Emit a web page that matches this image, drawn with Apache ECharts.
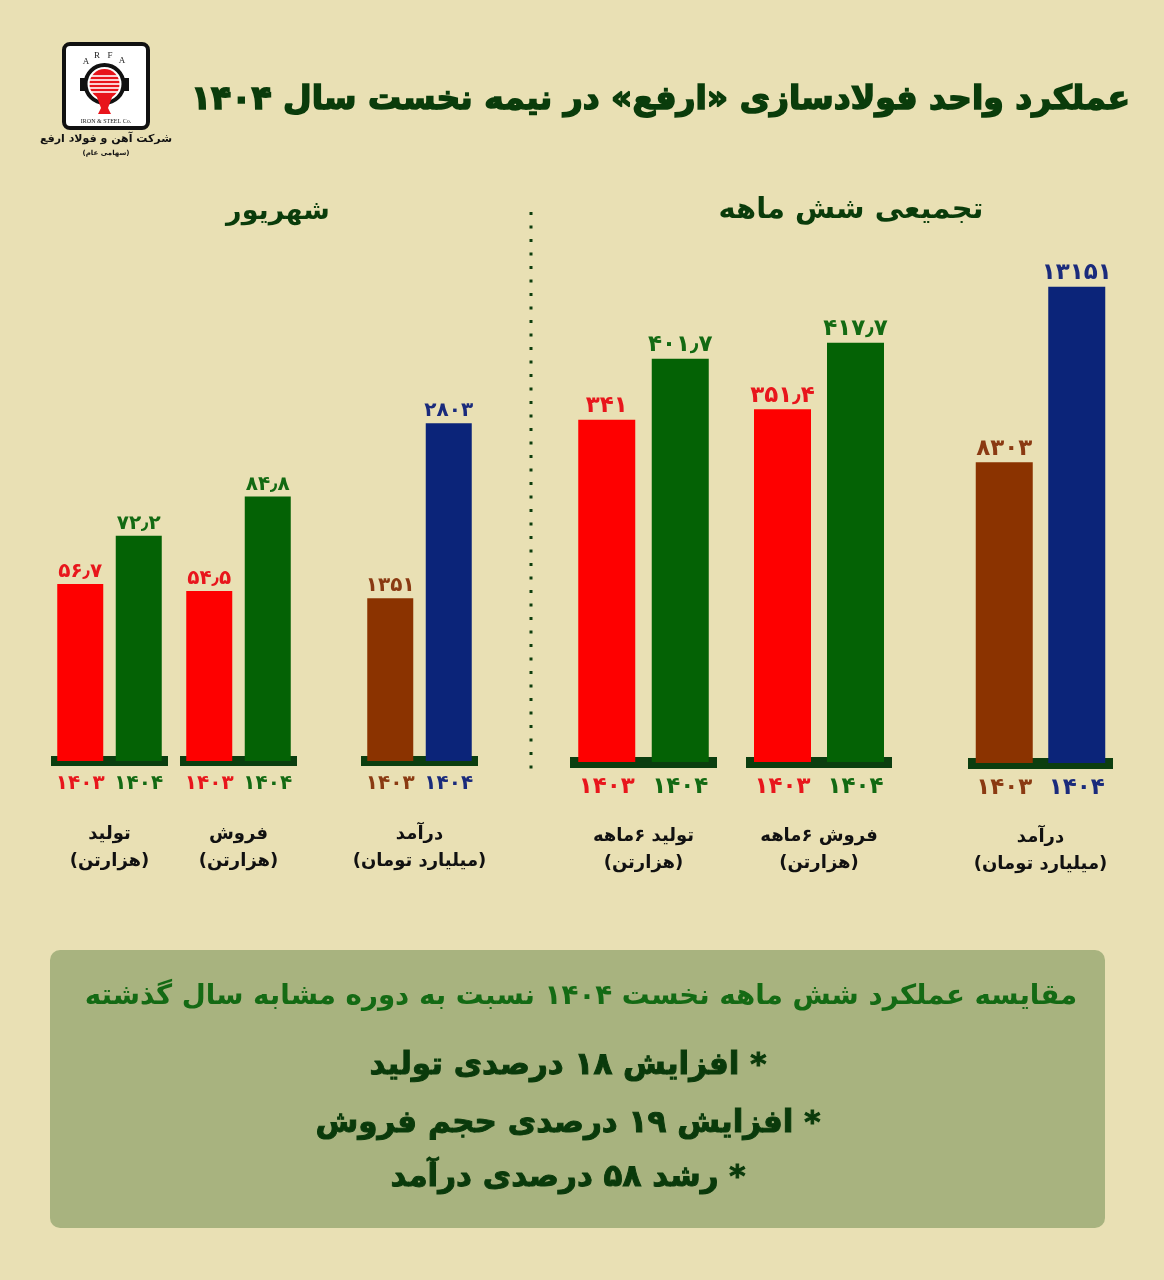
<!DOCTYPE html>
<html>
<head>
<meta charset="utf-8">
<script src="https://cdn.jsdelivr.net/npm/echarts@6/dist/echarts.min.js"></script>
<style>
html,body{margin:0;padding:0;background:#e9e0b4;}
#c{width:1164px;height:1280px;}
</style>
</head>
<body>
<div id="c"></div>
<script>
// ---------- data ----------
const years = ['1403', '1404'];
const shahrivarProduction = [56.7, 72.2];
const shahrivarSales = [54.5, 84.8];
const shahrivarRevenue = [1351, 2803];
const sixMonthProduction = [341, 401.7];
const sixMonthSales = [351.4, 417.7];
const sixMonthRevenue = [8303, 13151];
const groupNames = [
  'تولید\n(هزارتن)',
  'فروش\n(هزارتن)',
  'درآمد\n(میلیارد تومان)',
  'تولید ۶ماهه\n(هزارتن)',
  'فروش ۶ماهه\n(هزارتن)',
  'درآمد\n(میلیارد تومان)'
];
const titleText = 'عملکرد واحد فولادسازی «ارفع» در نیمه نخست سال ۱۴۰۴';
const sectionLeft = 'شهریور';
const sectionRight = 'تجمیعی شش ماهه';
const boxHeading = 'مقایسه عملکرد شش ماهه نخست ۱۴۰۴ نسبت به دوره مشابه سال گذشته';
const bullets = [
  '* افزایش ۱۸ درصدی تولید',
  '* افزایش ۱۹ درصدی حجم فروش',
  '* رشد ۵۸ درصدی درآمد'
];

// ---------- styling / layout ----------
const FONT = '"DejaVu Sans", sans-serif';
const RED = '#fe0000', GREEN = '#046205', BROWN = '#8b3300', BLUE = '#0b2479';
const RED_T = '#e8161c', GREEN_T = '#136a13', BROWN_T = '#8a3a12', BLUE_T = '#1a2b7c';
const BASE = '#0b3e0f';

const groups = [
  {values: shahrivarProduction, colors: [RED, GREEN], tcolors: [RED_T, GREEN_T]},
  {values: shahrivarSales, colors: [RED, GREEN], tcolors: [RED_T, GREEN_T]},
  {values: shahrivarRevenue, colors: [BROWN, BLUE], tcolors: [BROWN_T, BLUE_T]},
  {values: sixMonthProduction, colors: [RED, GREEN], tcolors: [RED_T, GREEN_T]},
  {values: sixMonthSales, colors: [RED, GREEN], tcolors: [RED_T, GREEN_T]},
  {values: sixMonthRevenue, colors: [BROWN, BLUE], tcolors: [BROWN_T, BLUE_T]}
];
const layout = [
  {left: 51,  width: 117, top: 449, zero: 761, max: 100,   bar: 46, line: 10, fs: 20, afs: 20, margin: 8},
  {left: 180, width: 117, top: 449, zero: 761, max: 100,   bar: 46, line: 10, fs: 20, afs: 20, margin: 8},
  {left: 361, width: 117, top: 399.5, zero: 761, max: 3000, bar: 46, line: 10, fs: 20, afs: 20, margin: 8},
  {left: 570, width: 147, top: 260, zero: 762, max: 500,   bar: 57, line: 11, fs: 23, afs: 23, margin: 8},
  {left: 746, width: 146, top: 260, zero: 762, max: 500,   bar: 57, line: 11, fs: 23, afs: 23, margin: 8},
  {left: 968, width: 145, top: 256, zero: 763, max: 14000, bar: 57, line: 11, fs: 23, afs: 23, margin: 8}
];

const faDigits = '۰۱۲۳۴۵۶۷۸۹';
function toFa(v) {
  return String(v).replace(/[0-9]/g, d => faDigits[+d]).replace('.', '٫');
}
const RLM = '\u200F';

const grid = [], xAxis = [], yAxis = [], series = [];
groups.forEach((g, i) => {
  const L = layout[i];
  grid.push({left: L.left, width: L.width, top: L.top, height: L.zero - L.top, containLabel: false});
  xAxis.push({
    gridIndex: i, type: 'category', data: years,
    offset: L.line / 2,
    axisTick: {show: false},
    axisLine: {show: true, lineStyle: {color: BASE, width: L.line, cap: 'butt'}},
    axisLabel: {
      interval: 0,
      margin: L.margin,
      formatter: (v, idx) => '{c' + idx + '|' + toFa(v) + '}',
      rich: {
        c0: {color: g.tcolors[0], fontSize: L.afs, fontWeight: 'bold', fontFamily: FONT},
        c1: {color: g.tcolors[1], fontSize: L.afs, fontWeight: 'bold', fontFamily: FONT}
      }
    },
    name: RLM + groupNames[i].split('\n').join('\n' + RLM),
    nameLocation: 'middle',
    nameGap: 55,
    nameTextStyle: {color: '#111', fontSize: 18, fontWeight: 'bold', fontFamily: FONT, lineHeight: 27}
  });
  yAxis.push({gridIndex: i, type: 'value', min: 0, max: L.max, show: false, splitLine: {show: false}});
  series.push({
    type: 'bar', xAxisIndex: i, yAxisIndex: i, barWidth: L.bar,
    data: g.values.map((v, j) => ({
      value: v,
      itemStyle: {color: g.colors[j]},
      label: {color: g.tcolors[j]}
    })),
    label: {
      show: true, position: 'top', distance: 2,
      fontSize: L.fs, fontWeight: 'bold', fontFamily: FONT,
      formatter: p => toFa(p.value)
    }
  });
});

function txt(x, y, text, font, fill, align, strokeW) {
  const st = {text: text, font: font, fill: fill, textAlign: align || 'center', align: align || 'center',
              textVerticalAlign: 'middle', verticalAlign: 'middle'};
  if (strokeW) { st.stroke = fill; st.lineWidth = strokeW; }
  return {type: 'text', x: x, y: y, z: 10, style: st};
}

const graphic = [
  // title
  txt(1130, 100, titleText, '900 33px ' + FONT, '#0a3c0b', 'right', 1.6),
  // section headings
  txt(278, 212, sectionLeft, 'bold 27px ' + FONT, '#0a3c0b'),
  txt(851, 210, sectionRight, 'bold 29px ' + FONT, '#0a3c0b'),
  // divider
  {type: 'line', shape: {x1: 531, y1: 212, x2: 531, y2: 775},
   style: {stroke: '#0d3d0d', lineWidth: 3, lineDash: [3, 10.5]}},
  // logo
  {type: 'rect', shape: {x: 64, y: 44, width: 84, height: 84, r: 6},
   style: {fill: '#ffffff', stroke: '#111', lineWidth: 4}},
  txt(86, 62, 'A', '9px "Liberation Serif", serif', '#222'),
  txt(97, 56, 'R', '9px "Liberation Serif", serif', '#222'),
  txt(110, 56, 'F', '9px "Liberation Serif", serif', '#222'),
  txt(122, 61, 'A', '9px "Liberation Serif", serif', '#222'),
  {type: 'rect', shape: {x: 80, y: 78, width: 6, height: 13}, style: {fill: '#111'}},
  {type: 'rect', shape: {x: 123, y: 78, width: 6, height: 13}, style: {fill: '#111'}},
  {type: 'circle', shape: {cx: 104.5, cy: 84, r: 19}, style: {fill: 'none', stroke: '#111', lineWidth: 4}},
  {type: 'polygon', shape: {points: [[95, 92], [114, 92], [108, 108], [111, 114], [98, 114], [101, 108]]}, style: {fill: '#e8141b'}},
  {type: 'circle', shape: {cx: 104.5, cy: 84, r: 15}, style: {fill: '#e8141b'}},
  {type: 'line', shape: {x1: 90, y1: 76, x2: 119, y2: 76}, style: {stroke: '#fff', lineWidth: 1.6}},
  {type: 'line', shape: {x1: 89, y1: 80, x2: 120, y2: 80}, style: {stroke: '#fff', lineWidth: 1.6}},
  {type: 'line', shape: {x1: 89, y1: 84, x2: 120, y2: 84}, style: {stroke: '#fff', lineWidth: 1.6}},
  {type: 'line', shape: {x1: 89, y1: 88, x2: 120, y2: 88}, style: {stroke: '#fff', lineWidth: 1.6}},
  {type: 'line', shape: {x1: 91, y1: 92, x2: 118, y2: 92}, style: {stroke: '#fff', lineWidth: 1.6}},
  txt(106, 121, 'IRON & STEEL Co.', '6px "Liberation Serif", serif', '#222'),
  txt(106, 139, 'شرکت آهن و فولاد ارفع', 'bold 11px ' + FONT, '#111'),
  txt(106, 153, RLM + '(سهامی عام)', 'bold 7px ' + FONT, '#111'),
  // bottom box
  {type: 'rect', shape: {x: 50, y: 950, width: 1055, height: 278, r: 10},
   style: {fill: '#a8b37f'}},
  txt(581, 997, boxHeading, 'bold 27.7px ' + FONT, '#146a14'),
  txt(568, 1066, RLM + bullets[0], '900 31px ' + FONT, '#0a3a0b', 'center', 1),
  txt(568, 1124, RLM + bullets[1], '900 31px ' + FONT, '#0a3a0b', 'center', 1),
  txt(568, 1178, RLM + bullets[2], '900 31px ' + FONT, '#0a3a0b', 'center', 1)
];

const chart = echarts.init(document.getElementById('c'), null, {renderer: 'canvas', width: 1164, height: 1280});
chart.setOption({
  backgroundColor: '#e9e0b4',
  animation: false,
  grid: grid, xAxis: xAxis, yAxis: yAxis, series: series,
  graphic: graphic
});
</script>
</body>
</html>
